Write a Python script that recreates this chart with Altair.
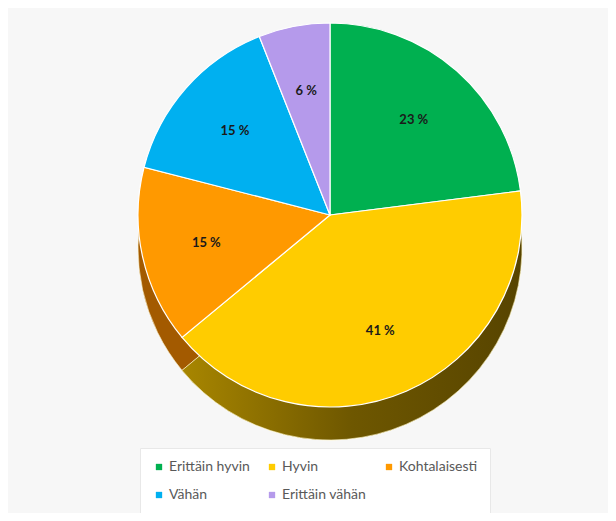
import altair as alt
import pandas as pd

categories = ["Erittäin hyvin", "Hyvin", "Kohtalaisesti", "Vähän", "Erittäin vähän"]
values = [23, 41, 15, 15, 6]
top_colors = ["#00B050", "#FFCC00", "#FF9900", "#00B0F0", "#B59AEB"]
side_colors = ["#00702f", "#7a6100", "#a35a00", "#00709a", "#6f5c96"]

df = pd.DataFrame({
    "cat": categories,
    "value": values,
    "idx": list(range(len(categories))),
    "side": side_colors,
})
df["label"] = df["value"].astype(str) + " %"

CX, CY, R, DEPTH = 322, 207, 192, 33

theta_scale = alt.Scale(domain=[0, 100])
th = alt.Theta("v0:Q", scale=theta_scale)
th2 = alt.Theta2("v1:Q")

base = alt.Chart(df).transform_stack(
    stack="value", as_=["v0", "v1"], groupby=[], sort=[alt.SortField("idx", order="ascending")]
)

side = base.mark_arc(outerRadius=R, stroke="#fff8d0", strokeWidth=0.6).encode(
    theta=th, theta2=th2,
    fill=alt.Fill("side:N", scale=None, legend=None),
    x=alt.value(CX), y=alt.value(CY + DEPTH),
)

grad = alt.LinearGradient(
    gradient="linear", x1=0, x2=1, y1=0, y2=0,
    stops=[alt.GradientStop(color="#a88600", offset=0),
           alt.GradientStop(color="#6e5700", offset=0.5),
           alt.GradientStop(color="#574400", offset=1)],
)
side_y = base.transform_filter(alt.datum.cat == "Hyvin").mark_arc(
    outerRadius=R, fill=grad, stroke="#fff8d0", strokeWidth=0.6
).encode(
    theta=th, theta2=th2,
    x=alt.value(CX), y=alt.value(CY + DEPTH),
)

top = base.mark_arc(outerRadius=R, stroke="white", strokeWidth=1.2).encode(
    theta=th, theta2=th2,
    color=alt.Color("cat:N", sort=categories,
                    scale=alt.Scale(domain=categories, range=top_colors),
                    legend=alt.Legend(title=None, orient="none", legendX=132, legendY=440,
                                      direction="horizontal", columns=3,
                                      symbolType="square", symbolSize=40,
                                      symbolStrokeWidth=0,
                                      labelFont="Lato", labelFontSize=14,
                                      labelColor="#595959", labelOffset=3,
                                      columnPadding=15, rowPadding=14,
                                      padding=12, fillColor="#ffffff",
                                      strokeColor="#e8e8e8")),
    x=alt.value(CX), y=alt.value(CY),
)

labels = base.transform_calculate(mid="(datum.v0 + datum.v1) / 2").mark_text(
    radius=R * 0.66, font="Lato", fontSize=13, fontWeight="bold", color="#1a1a1a"
).encode(
    theta=alt.Theta("mid:Q", scale=theta_scale), text="label:N",
    x=alt.value(CX), y=alt.value(CY),
)

chart = alt.layer(side, side_y, top, labels).resolve_scale(
    color="independent", fill="independent"
).properties(
    width=600, height=505,
    autosize=alt.AutoSizeParams(type="none"),
    padding=0, background="#f7f7f7",
).configure_view(stroke=None)

chart.save("out.html", embed_options={"renderer": "svg", "actions": False})
